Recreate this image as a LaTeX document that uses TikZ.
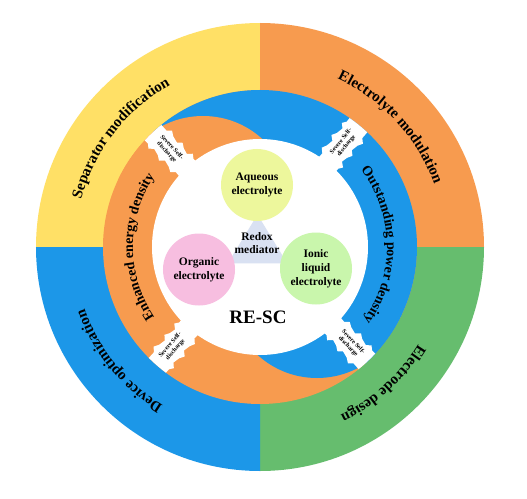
\documentclass[tikz,border=0pt]{standalone}
\usepackage{fontspec}
\setmainfont{Liberation Serif}
\usetikzlibrary{decorations.text}
\definecolor{cyel}{HTML}{FFE066}
\definecolor{corg}{HTML}{F79B4F}
\definecolor{cblu}{HTML}{1C97E8}
\definecolor{cgrn}{HTML}{66BD6E}
\definecolor{caq}{HTML}{EDF79C}
\definecolor{cpk}{HTML}{F7BEE0}
\definecolor{cil}{HTML}{C9F6AC}
\definecolor{ctri}{HTML}{D9E1F2}
\begin{document}
\begin{tikzpicture}[x=1pt,y=1pt,
  lbl/.style={font=\bfseries\fontsize{11.5pt}{13.8pt}\selectfont, align=center, inner sep=0pt},
  ball/.style={circle, minimum size=72pt, inner sep=0pt},
  gaptext/.style={font=\bfseries\fontsize{6.2pt}{7pt}\selectfont, align=center, inner sep=0pt},
  arctext/.style 2 args={decorate, decoration={text along path, text align=center, text={|\bfseries\fontsize{#1}{#1}\selectfont|#2}}},
  gapcut/.pic={\fill[white] (98,-11.5) -- (110,-11.5) -- (114,-14.5) -- (118,-10) -- (124,-11.5) -- (129,-14.5) -- (133,-10.5) -- (140,-12) -- (145,-15) -- (149,-11) -- (170,-11.5) -- (170,11.5) -- (152,11.5) -- (148,14.5) -- (144,10.5) -- (137,12) -- (132,15) -- (128,10.5) -- (121,12) -- (116,14.5) -- (112,10.5) -- (98,11.5) -- cycle;}
]
\fill[white] (-260,-251) rectangle (267,247);
\useasboundingbox (-260,-251) rectangle (267,247);
% outer ring quadrants
\fill[cyel] (0,0) -- (180:224pt) arc[start angle=180, end angle=90, radius=224pt] -- cycle;
\fill[corg] (0,0) -- (90:224pt) arc[start angle=90, end angle=0, radius=224pt] -- cycle;
\fill[cgrn] (0,0) -- (0:224pt) arc[start angle=0, end angle=-90, radius=224pt] -- cycle;
\fill[cblu] (0,0) -- (-90:224pt) arc[start angle=-90, end angle=-180, radius=224pt] -- cycle;
% inner interlocking ring
\begin{scope}
  \clip (0,0) circle[radius=157pt];
  \fill[corg] (-160,-160) rectangle (160,160);
  \fill[cblu, rotate=43] (0,-200) rectangle (200,200);
  \fill[corg] (-57,43) circle[radius=88pt];
  \fill[cblu] (57,-43) circle[radius=88pt];
  \foreach \a in {133,51,229,313} \pic[rotate=\a] {gapcut};
\end{scope}
\fill[white] (0,0) circle[radius=108pt];
% outer labels
\path[arctext={15pt}{Separator modification}] (202:185pt) arc[start angle=202, end angle=82, radius=185pt];
\path[arctext={15pt}{Electrolyte modulation}] (102.5:185pt) arc[start angle=102.5, end angle=-17.5, radius=185pt];
\path[arctext={15pt}{Electrode design}] (12:186pt) arc[start angle=12, end angle=-108, radius=186pt];
\path[arctext={15pt}{Device optimization}] (279:186pt) arc[start angle=279, end angle=159, radius=186pt];
% inner ring labels
\path[arctext={14pt}{Enhanced energy density}] (250:127pt) arc[start angle=250, end angle=110, radius=127pt];
\path[arctext={14pt}{Outstanding power density}] (71:127pt) arc[start angle=71, end angle=-69, radius=127pt];
% gap labels
\node[gaptext, rotate=-47] (g1) at (133:133pt) {Severe Self-\\discharge};
\node[gaptext, rotate=51] (g2) at (51:133pt) {Severe Self-\\discharge};
\node[gaptext, rotate=49] (g3) at (229:133pt) {Severe Self-\\discharge};
\node[gaptext, rotate=-47] (g4) at (313:133pt) {Severe Self-\\discharge};
% centre
\fill[ctri] (-32.2,-16.3) -- (-2.5,32.4) -- (27.2,-16.3) -- cycle;
\node[ball, lbl, fill=caq] (aq) at (-3,62) {Aqueous\\electrolyte};
\node[ball, lbl, fill=cpk] (org) at (-61,-22.5) {Organic\\electrolyte};
\node[ball, lbl, fill=cil] (ion) at (56,-21.5) {Ionic\\liquid\\electrolyte};
\node[lbl] (redox) at (-3,4) {Redox\\mediator};
\node[font=\bfseries\fontsize{19pt}{19pt}\selectfont, inner sep=0pt] (resc) at (-2,-70) {RE-SC};
\end{tikzpicture}
\end{document}
